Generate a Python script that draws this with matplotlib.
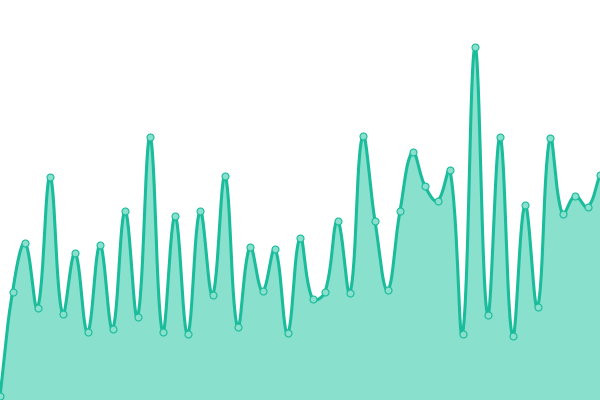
import numpy as np
import matplotlib
matplotlib.use('Agg')
import matplotlib.pyplot as plt

# values (pixel height from the bottom of a 400px canvas)
values = [4, 108, 157, 92, 223, 86, 147, 68, 155, 71, 189, 83, 263, 68, 184, 66,
          189, 105, 224, 73, 153, 109, 151, 67, 162, 101, 108, 179, 107, 264, 179,
          110, 189, 248, 214, 199, 230, 66, 353, 85, 263, 64, 195, 93, 262, 186,
          204, 193, 225]
x = np.arange(len(values))

line_color = '#1abc9c'
fill_color = '#88e0cd'
step = 600 / (len(values) - 1)   # px between points, used for the curve shape only


def spline(xs, ys, tension=0.4, n=24):
    # bezier curve with control points like a chart.js line (tension 0.4)
    px = xs * step
    py = np.asarray(ys, dtype=float)
    m = len(px)
    cp_prev = np.zeros((m, 2))
    cp_next = np.zeros((m, 2))
    for i in range(m):
        cur = np.array([px[i], py[i]])
        prv = np.array([px[i - 1], py[i - 1]]) if i > 0 else cur
        nxt = np.array([px[i + 1], py[i + 1]]) if i < m - 1 else cur
        d01 = np.hypot(*(cur - prv))
        d12 = np.hypot(*(nxt - cur))
        tot = d01 + d12
        s01 = d01 / tot if tot else 0
        s12 = d12 / tot if tot else 0
        cp_prev[i] = cur - tension * s01 * (nxt - prv)
        cp_next[i] = cur + tension * s12 * (nxt - prv)
    cp_prev[:, 1] = np.clip(cp_prev[:, 1], 0, 400)
    cp_next[:, 1] = np.clip(cp_next[:, 1], 0, 400)
    t = np.linspace(0, 1, n, endpoint=False)[:, None]
    out = []
    for i in range(m - 1):
        p0 = np.array([px[i], py[i]])
        p3 = np.array([px[i + 1], py[i + 1]])
        p1, p2 = cp_next[i], cp_prev[i + 1]
        out.append((1 - t) ** 3 * p0 + 3 * (1 - t) ** 2 * t * p1
                   + 3 * (1 - t) * t ** 2 * p2 + t ** 3 * p3)
    out.append(np.array([[px[-1], py[-1]]]))
    out = np.vstack(out)
    return out[:, 0] / step, out[:, 1]


sx, sy = spline(x.astype(float), values)

fig = plt.figure(figsize=(6, 4), dpi=100)
ax = fig.add_axes([0, 0, 1, 1])
ax.fill_between(sx, sy, 0, color=fill_color, linewidth=0)
ax.plot(sx, sy, color=line_color, linewidth=2.2, solid_capstyle='round')
ax.plot(x, values, 'o', markersize=5, markerfacecolor=fill_color,
        markeredgecolor=line_color, markeredgewidth=0.8)
ax.set_xlim(0, len(values) - 1)
ax.set_ylim(0, 400)
ax.axis('off')
fig.savefig('out.png', dpi=100)
